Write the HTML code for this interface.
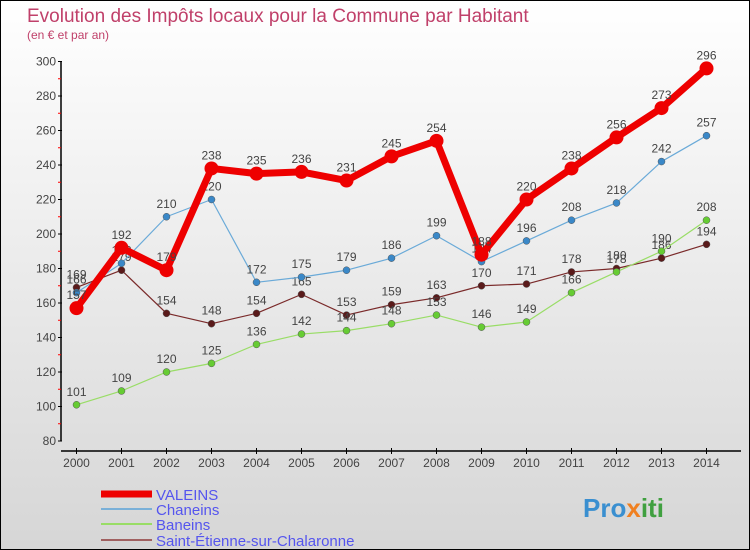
<!DOCTYPE html>
<html><head><meta charset="utf-8"><style>
body{margin:0}
#c{position:relative;width:748px;height:548px;border:1px solid #000;background:linear-gradient(#fff,#d6d6d6);font-family:"Liberation Sans",sans-serif;overflow:hidden}
</style></head><body>
<div id="c">
<svg id="s" width="748" height="548" xmlns="http://www.w3.org/2000/svg">
<text x="26" y="21" font-size="19" fill="#c0406a">Evolution des Impôts locaux pour la Commune par Habitant</text>
<text x="26" y="38" font-size="12" fill="#c0406a">(en € et par an)</text>
<g id="axes"></g><g id="series"></g><g id="legend"></g>
<text x="582" y="516" font-size="26" font-weight="bold" fill="#3a8fd0">Pro<tspan fill="#f08020">x</tspan><tspan fill="#40a040">iti</tspan></text>
</svg></div>
<script>
const years=[2000,2001,2002,2003,2004,2005,2006,2007,2008,2009,2010,2011,2012,2013,2014];
const yTicks=[80,100,120,140,160,180,200,220,240,260,280,300];
const valeins=[157,192,179,238,235,236,231,245,254,188,220,238,256,273,296];
const chaneins=[166,183,210,220,172,175,179,186,199,184,196,208,218,242,257];
const baneins=[101,109,120,125,136,142,144,148,153,146,149,166,178,190,208];
const stEtienne=[169,179,154,148,154,165,153,159,163,170,171,178,180,186,194];
const seriesNames=["VALEINS","Chaneins","Baneins","Saint-Étienne-sur-Chalaronne"];
const NS="http://www.w3.org/2000/svg";
const x=i=>75.5+i*45;
const y=v=>440-(v-80)*1.725;
function mk(tag,at,par){const e=document.createElementNS(NS,tag);for(const k in at)e.setAttribute(k,at[k]);par.appendChild(e);return e;}
const ax=document.getElementById('axes');
let yl=mk('line',{x1:60,y1:y(300),x2:60,y2:y(80),stroke:'#000','stroke-width':1.5},ax);


yTicks.forEach(t=>{
 mk('line',{x1:57,y1:y(t),x2:61,y2:y(t),stroke:'#000'},ax);
 if(t<300)mk('line',{x1:57,y1:y(t+10),x2:60,y2:y(t+10),stroke:'#f00'},ax);
 const tx=mk('text',{x:55,y:y(t)+4,'font-size':12,fill:'#444','text-anchor':'end'},ax);tx.textContent=t;
 
 
});
let xl=mk('line',{x1:60,y1:450,x2:740,y2:450,stroke:'#000','stroke-width':1.5},ax);


years.forEach((yr,i)=>{
 mk('line',{x1:x(i),y1:447,x2:x(i),y2:453,stroke:'#000'},ax);
 const tx=mk('text',{x:x(i),y:466,'font-size':12,fill:'#444','text-anchor':'middle'},ax);tx.textContent=yr;
 
 
});
const sg=document.getElementById('series');
const defs=[[stEtienne,'#7a2a2a','#5a1a1a',1.2,3.5,'saint-etienne'],[baneins,'#99dd66','#66cc33',1.2,3.5,'baneins'],[chaneins,'#6aaad8','#3a88c8',1.2,3.5,'chaneins'],[valeins,'#ee0000','#ee0000',7,7,'valeins']];
defs.forEach(([d,lc,pc,w,r,n])=>{
 const p=mk('polyline',{points:d.map((v,i)=>x(i)+','+y(v)).join(' '),fill:'none',stroke:lc,'stroke-width':w,'stroke-linejoin':'round'},sg);
 
 
 d.forEach((v,i)=>{
  const c=mk('circle',{cx:x(i),cy:y(v),r:r,fill:pc,stroke:r>5?'none':'#555','stroke-width':0.5},sg);
  
  
  const t=mk('text',{x:x(i),y:y(v)-9,'font-size':12,fill:'#444','text-anchor':'middle'},sg);t.textContent=v;
  
  
 });
});
const lg=document.getElementById('legend');
const lcol=['#ee0000','#7ab0d8','#99dd66','#a06060'];const lw=[7,2,2,2];const ly=[493,508,523,539];
seriesNames.forEach((nm,i)=>{
 mk('line',{x1:100,y1:ly[i],x2:151,y2:ly[i],stroke:lcol[i],'stroke-width':lw[i]},lg);
 const t=mk('text',{x:155,y:ly[i]+6,'font-size':15,fill:'#5555ee'},lg);t.textContent=nm;
 
 
});
</script>
</body></html>
